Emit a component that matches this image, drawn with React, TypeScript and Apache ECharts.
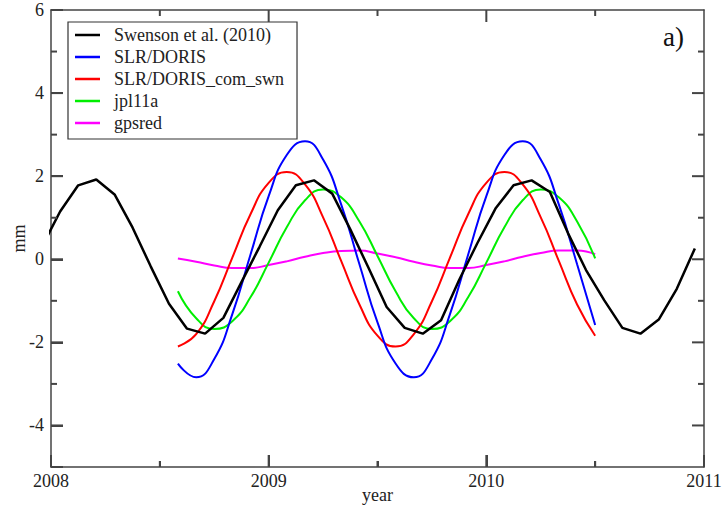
import React, { useEffect, useRef } from "react";
import * as echarts from "echarts";

const swensonTime = [
  2007.958, 2008.042, 2008.125, 2008.208, 2008.292, 2008.375, 2008.458, 2008.542,
  2008.625, 2008.708, 2008.792, 2008.875, 2008.958, 2009.042, 2009.125, 2009.208,
  2009.292, 2009.375, 2009.458, 2009.542, 2009.625, 2009.708, 2009.792, 2009.875,
  2009.958, 2010.042, 2010.125, 2010.208, 2010.292, 2010.375, 2010.458, 2010.542,
  2010.625, 2010.708, 2010.792, 2010.875, 2010.958,
];
const swensonValues = [
  0.3, 1.15, 1.78, 1.92, 1.56, 0.76, -0.17, -1.07, -1.67, -1.79, -1.41, -0.55, 0.3,
  1.18, 1.78, 1.9, 1.58, 0.72, -0.2, -1.15, -1.65, -1.79, -1.47, -0.5, 0.38,
  1.22, 1.78, 1.9, 1.62, 0.63, -0.26, -0.99, -1.65, -1.79, -1.45, -0.71, 0.26,
];

const modelTime = [
  2008.583, 2008.667, 2008.75, 2008.833, 2008.917, 2009.0, 2009.083, 2009.167,
  2009.25, 2009.333, 2009.417, 2009.5, 2009.583, 2009.667, 2009.75, 2009.833,
  2009.917, 2010.0, 2010.083, 2010.167, 2010.25, 2010.333, 2010.417, 2010.5,
];
const slrDorisValues = [
  -2.51, -2.84, -2.4, -1.32, 0.12, 1.52, 2.51, 2.84, 2.4, 1.32, -0.12, -1.52,
  -2.51, -2.84, -2.4, -1.32, 0.12, 1.52, 2.51, 2.84, 2.4, 1.32, -0.12, -1.58,
];
const slrDorisComValues = [
  -2.1, -1.8, -1.01, 0.04, 1.09, 1.84, 2.1, 1.8, 1.01, -0.04, -1.09, -1.84,
  -2.1, -1.8, -1.01, 0.04, 1.09, 1.84, 2.1, 1.8, 1.01, -0.04, -1.09, -1.84,
];
const jplValues = [
  -0.77, -1.42, -1.68, -1.49, -0.91, -0.08, 0.77, 1.42, 1.68, 1.49, 0.91, 0.08,
  -0.77, -1.42, -1.68, -1.49, -0.91, -0.08, 0.77, 1.42, 1.68, 1.49, 0.91, 0.02,
];
const gpsredValues = [
  0.02, -0.06, -0.15, -0.21, -0.21, -0.14, -0.05, 0.06, 0.15, 0.2, 0.21, 0.14,
  0.05, -0.06, -0.15, -0.21, -0.21, -0.14, -0.05, 0.06, 0.15, 0.21, 0.21, 0.12,
];

const seriesNames = [
  "Swenson et al. (2010)",
  "SLR/DORIS",
  "SLR/DORIS_com_swn",
  "jpl11a",
  "gpsred",
];
const seriesColors = ["#000000", "#0000ff", "#ff0000", "#00ee00", "#ff00ff"];

// tick positions (axis values)
const xMajorTicks = [2009, 2010];
const xMinorTicks = [2008.5, 2009.5, 2010.5];
const yMajorTicks = [-4, -2, 0, 2, 4];
const yMinorTicks = [-3, -1, 1, 3, 5];
const X_MIN = 2008;
const X_MAX = 2011;
const Y_MIN = -5;
const Y_MAX = 6;

const FONT = '"Liberation Serif", "Times New Roman", serif';
const AXIS_COLOR = "#444444";
const MAJOR_LEN = 12;
const MINOR_LEN = 6;
const TICK_W = 2;

function pairs(xs: number[], ys: number[]) {
  return xs.map((x, i) => [x, ys[i]]);
}

// inward tick marks drawn as thin rectangles positioned through the axis scales
function tickSeries(side: "bottom" | "top" | "left" | "right") {
  const isX = side === "bottom" || side === "top";
  const data = isX
    ? [...xMajorTicks.map((v) => [v, 0, MAJOR_LEN]), ...xMinorTicks.map((v) => [v, 0, MINOR_LEN])]
    : [...yMajorTicks.map((v) => [2009.5, v, MAJOR_LEN]), ...yMinorTicks.map((v) => [2009.5, v, MINOR_LEN])];
  return {
    type: "custom",
    name: "ticks-" + side,
    xAxisIndex: 0,
    yAxisIndex: 0,
    silent: true,
    z: 30,
    data,
    renderItem: (_p: any, api: any) => {
      const len = api.value(2);
      let shape: { x: number; y: number; width: number; height: number };
      if (side === "bottom") {
        const p = api.coord([api.value(0), Y_MIN]);
        shape = { x: p[0] - TICK_W / 2, y: p[1] - len, width: TICK_W, height: len };
      } else if (side === "top") {
        const p = api.coord([api.value(0), Y_MAX]);
        shape = { x: p[0] - TICK_W / 2, y: p[1], width: TICK_W, height: len };
      } else if (side === "left") {
        const p = api.coord([X_MIN, api.value(1)]);
        shape = { x: p[0], y: p[1] - TICK_W / 2, width: len, height: TICK_W };
      } else {
        const p = api.coord([X_MAX, api.value(1)]);
        shape = { x: p[0] - len, y: p[1] - TICK_W / 2, width: len, height: TICK_W };
      }
      return {
        type: "rect",
        shape,
        style: { fill: AXIS_COLOR },
      };
    },
  };
}

const mkLine = () => ({ show: true, onZero: false, lineStyle: { color: AXIS_COLOR, width: 1.5 } });

export default function App() {
  const ref = useRef<HTMLDivElement>(null);
  useEffect(() => {
    if (!ref.current) return;
    const chart = echarts.init(ref.current, undefined, { renderer: "svg" });
    const valueSets = [swensonValues, slrDorisValues, slrDorisComValues, jplValues, gpsredValues];
    const timeSets = [swensonTime, modelTime, modelTime, modelTime, modelTime];

    chart.setOption({
      animation: false,
      backgroundColor: "#ffffff",
      textStyle: { fontFamily: FONT },
      grid: {
        left: 51,
        right: 18,
        top: 10,
        bottom: 40,
        containLabel: false,
        outerBoundsMode: "none",
      },
      xAxis: [
        {
          type: "value",
          position: "bottom",
          min: X_MIN,
          max: X_MAX,
          interval: 1,
          name: "year",
          nameLocation: "middle",
          nameGap: 19,
          nameMoveOverlap: false,
          nameTextStyle: { fontFamily: FONT, fontSize: 18, color: "#222" },
          axisLine: mkLine(),
          axisTick: { show: true, inside: true, length: MAJOR_LEN, lineStyle: { color: AXIS_COLOR, width: TICK_W } },
          minorTick: { show: true, splitNumber: 2, length: MINOR_LEN, lineStyle: { color: AXIS_COLOR, width: TICK_W } },
          splitLine: { show: false },
          minorSplitLine: { show: false },
          axisLabel: {
            show: true,
            fontFamily: FONT,
            fontSize: 18,
            color: "#222",
            margin: 5,
            formatter: (v: number) => String(v),
          },
        },
        {
          type: "value",
          position: "top",
          min: X_MIN,
          max: X_MAX,
          interval: 1,
          axisLine: mkLine(),
          axisTick: { show: false },
          splitLine: { show: false },
          axisLabel: { show: false },
        },
      ],
      yAxis: [
        {
          type: "value",
          position: "left",
          min: Y_MIN,
          max: Y_MAX,
          splitNumber: 5,
          name: "mm",
          nameLocation: "middle",
          nameGap: 23,
          nameMoveOverlap: false,
          nameRotate: 90,
          nameTextStyle: { fontFamily: FONT, fontSize: 18, color: "#222" },
          axisLine: mkLine(),
          axisTick: { show: true, inside: true, length: MAJOR_LEN, lineStyle: { color: AXIS_COLOR, width: TICK_W } },
          splitLine: { show: false },
          axisLabel: {
            show: true,
            fontFamily: FONT,
            fontSize: 18,
            color: "#222",
            margin: 7,
            formatter: (v: number) => (v === -5 ? "" : String(v)),
          },
        },
        {
          type: "value",
          position: "right",
          min: Y_MIN,
          max: Y_MAX,
          splitNumber: 5,
          axisLine: mkLine(),
          axisTick: { show: false },
          splitLine: { show: false },
          axisLabel: { show: false },
        },
      ],
      legend: {
        show: true,
        orient: "vertical",
        left: 68,
        top: 22,
        padding: [2, 13, 5, 7],
        itemGap: 0,
        itemWidth: 25,
        itemHeight: 2.5,
        icon: "rect",
        selectedMode: false,
        backgroundColor: "#ffffff",
        borderColor: "#333333",
        borderWidth: 1.2,
        borderRadius: 0,
        data: seriesNames,
        textStyle: {
          fontFamily: FONT,
          fontSize: 18,
          lineHeight: 22,
          color: "#222",
          padding: [0, 0, 0, 9],
        },
      },
      graphic: [
        {
          type: "text",
          left: 663,
          top: 23,
          style: { text: "a)", font: `27px ${FONT}`, fill: "#111" },
        },
      ],
      series: [
        ...seriesNames.map((name, i) => ({
          name,
          type: "line",
          xAxisIndex: 0,
          yAxisIndex: 0,
          data: pairs(timeSets[i], valueSets[i]),
          showSymbol: false,
          symbol: "none",
          smooth: i === 0 ? false : 0.5,
          clip: true,
          color: seriesColors[i],
          lineStyle: { color: seriesColors[i], width: i === 0 ? 2.5 : 2 },
          z: 10 - i,
        })),
        tickSeries("bottom"),
        tickSeries("top"),
        tickSeries("left"),
        tickSeries("right"),
      ],
    });
    return () => chart.dispose();
  }, []);
  return (
    <div
      ref={ref}
      style={{ position: "fixed", left: 0, top: 0, width: 722, height: 507, background: "#fff" }}
    />
  );
}
